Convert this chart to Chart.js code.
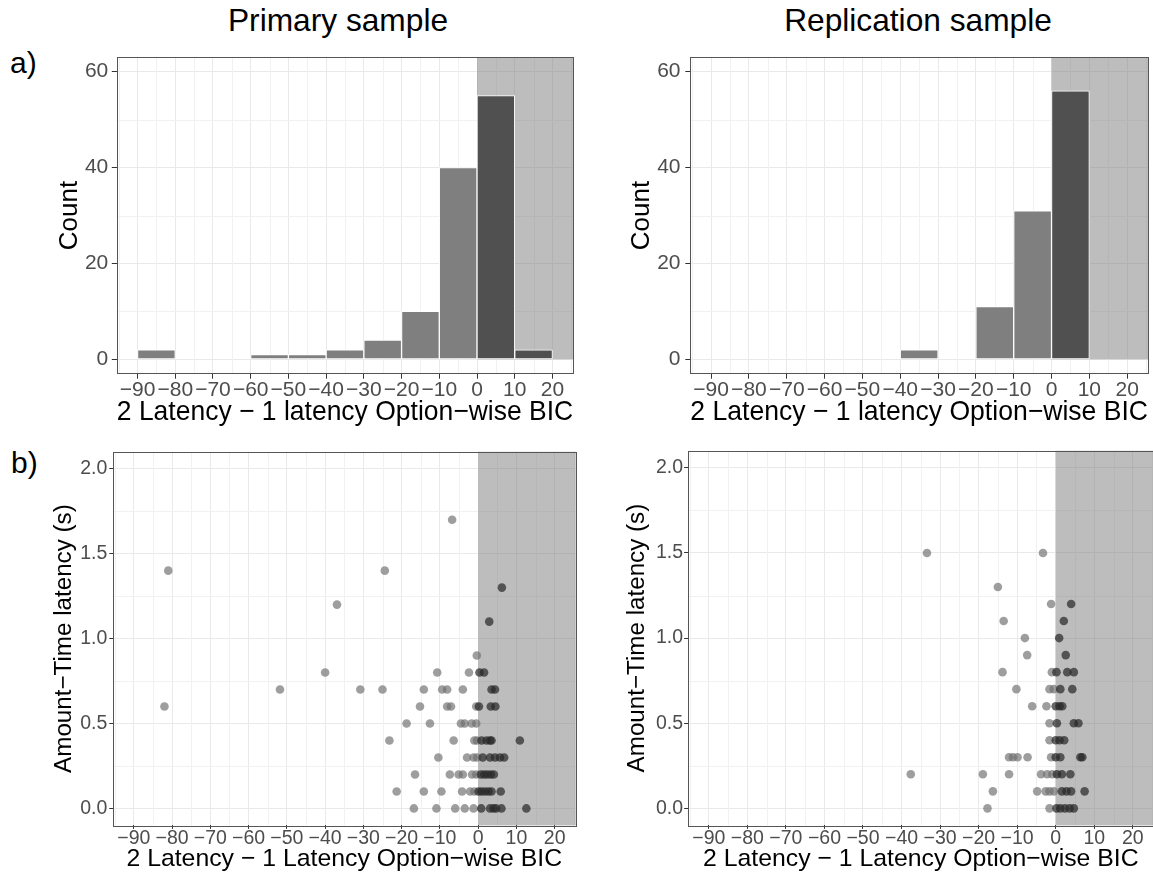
<!DOCTYPE html>
<html>
<head>
<meta charset="utf-8">
<script src="https://cdn.jsdelivr.net/npm/chart.js@4.4.1/dist/chart.umd.min.js"></script>
<style>
  html, body { margin: 0; padding: 0; background: #fff; overflow: hidden; }
  body { width: 1153px; height: 875px; position: relative; font-family: "Liberation Sans", Arial, sans-serif; }
  canvas { position: absolute; }
  .lbl { position: absolute; line-height: 1; white-space: nowrap; color: #000; }
  .ttl { transform: translateX(-50%); }
</style>
</head>
<body>
<div class="lbl ttl" style="left:338px; top:5px; font-size:31.7px">Primary sample</div>
<div class="lbl ttl" style="left:918px; top:5px; font-size:31.7px">Replication sample</div>
<div class="lbl" style="left:10px; top:48px; font-size:30px">a)</div>
<div class="lbl" style="left:11px; top:448px; font-size:30px">b)</div>

<canvas id="histPrimary" width="578" height="400" style="left:0px; top:40px; width:578px; height:400px"></canvas>
<canvas id="histReplication" width="573" height="400" style="left:580px; top:40px; width:573px; height:400px"></canvas>
<canvas id="scatterPrimary" width="580" height="435" style="left:0px; top:440px; width:580px; height:435px"></canvas>
<canvas id="scatterReplication" width="580" height="435" style="left:580px; top:440px; width:580px; height:435px"></canvas>

<script>
// ---- dados ----

// histogramas: início de cada classe (largura 10) e contagem
const binWidth = 10;
const primaryBinStart = [-90, -60, -50, -40, -30, -20, -10, 0, 10];
const primaryCounts   = [2, 1, 1, 2, 4, 10, 40, 55, 2];
const replicationBinStart = [-40, -20, -10, 0];
const replicationCounts   = [2, 11, 31, 56];

// dispersão: diferença de BIC (x) e latência Amount-Time em s (y)
const primaryBIC = [
  -81, -82, -6.8, -24.4, 6.2, -36.9, 2.9, -0.35,
  -40, -10.7, -2.4, 0.35, 1.55,
  -51.8, -30.8, -25, -14.2, -9.4, -8.1, -4.0, 3.5, 4.4,
  -15.2, -8.1, -7.1, -0.5, 0.2, 3.3, 4.5,
  -18.7, -12.6, -4.5, -3.5, -1.7, -0.5,
  -23.2, -6.4, -1.0, -0.3, 0.9, 2.2, 3.1, 3.5, 10.9,
  -10.4, -2.9, -1.2, -0.3, 1.2, 3.1, 4.4, 5.7, 6.8,
  -16.5, -7.4, -5.1, -4.0, -1.6, -0.5, 0.7, 1.6, 2.4, 3.3, 4.1,
  -21.3, -14.2, -9.6, -4.2, -2.1, -1.0, 0.1, 0.9, 1.8, 2.7, 3.5, 5.9,
  -16.8, -10.9, -6.0, -3.5, -1.2, 0.8, 3.1, 4.0, 4.7, 6.1, 12.6
];
const primaryLatency = [
  1.4, 0.6, 1.7, 1.4, 1.3, 1.2, 1.1, 0.9,
  0.8, 0.8, 0.8, 0.8, 0.8,
  0.7, 0.7, 0.7, 0.7, 0.7, 0.7, 0.7, 0.7, 0.7,
  0.6, 0.6, 0.6, 0.6, 0.6, 0.6, 0.6,
  0.5, 0.5, 0.5, 0.5, 0.5, 0.5,
  0.4, 0.4, 0.4, 0.4, 0.4, 0.4, 0.4, 0.4, 0.4,
  0.3, 0.3, 0.3, 0.3, 0.3, 0.3, 0.3, 0.3, 0.3,
  0.2, 0.2, 0.2, 0.2, 0.2, 0.2, 0.2, 0.2, 0.2, 0.2, 0.2,
  0.1, 0.1, 0.1, 0.1, 0.1, 0.1, 0.1, 0.1, 0.1, 0.1, 0.1, 0.1,
  0, 0, 0, 0, 0, 0, 0, 0, 0, 0, 0
];
const replicationBIC = [
  -33.4, -3.3,
  -15.0,
  -1.2, 4.0,
  -13.5, 2.1,
  -8.0, 0.9,
  -7.4, 2.6,
  -13.8, -1.0, 0.2, 3.0, 4.7,
  -10.2, -1.6, -0.5, 1.2, 4.3,
  -6.1, -2.4, 0, 1.0, 1.7,
  -1.6, 0.3, 4.7, 5.9,
  -1.6, 0, 1.0, 2.2,
  -12.1, -11.1, -9.9, -7.3, -1.2, 0, 1.2, 6.4, 6.9,
  -37.6, -18.9, -12.1, -3.8, -2.2, -0.9, 0.3, 1.6, 3.8,
  -16.3, -4.8, -2.6, -1.6, -0.5, 1.6, 2.8, 4.0, 7.5,
  -17.7, -1.6, 0.2, 1.2, 2.4, 3.6, 4.7
];
const replicationLatency = [
  1.5, 1.5,
  1.3,
  1.2, 1.2,
  1.1, 1.1,
  1.0, 1.0,
  0.9, 0.9,
  0.8, 0.8, 0.8, 0.8, 0.8,
  0.7, 0.7, 0.7, 0.7, 0.7,
  0.6, 0.6, 0.6, 0.6, 0.6,
  0.5, 0.5, 0.5, 0.5,
  0.4, 0.4, 0.4, 0.4,
  0.3, 0.3, 0.3, 0.3, 0.3, 0.3, 0.3, 0.3, 0.3,
  0.2, 0.2, 0.2, 0.2, 0.2, 0.2, 0.2, 0.2, 0.2,
  0.1, 0.1, 0.1, 0.1, 0.1, 0.1, 0.1, 0.1, 0.1,
  0, 0, 0, 0, 0, 0, 0
];

// marcas dos eixos
const xMajor = [-90, -80, -70, -60, -50, -40, -30, -20, -10, 0, 10, 20];
const xMinor = [-95, -85, -75, -65, -55, -45, -35, -25, -15, -5, 5, 15, 25];
const countMajor = [0, 20, 40, 60];
const countMinor = [10, 30, 50];
const latMajor = [0, 0.5, 1, 1.5, 2];
const latMinor = [0.25, 0.75, 1.25, 1.75];

const histXTitle = '2 Latency \u2212 1 latency Option\u2212wise BIC';
const scatXTitle = '2 Latency \u2212 1 Latency Option\u2212wise BIC';

// ---- estilo ----
const FONT = '"Liberation Sans", Arial, sans-serif';
const LIGHT_BAR = '#7f7f7f';
const DARK_BAR = '#505050';
const LIGHT_PT = 'rgba(112,112,112,0.68)';
const DARK_PT = 'rgba(38,38,38,0.7)';

const minus = v => (v < 0 ? '\u2212' + Math.abs(v) : String(v));

// grade secundária, faixa cinza e moldura do painel
const decor = {
  id: 'decor',
  beforeDatasetsDraw(chart, args, opts) {
    const { ctx, chartArea: a, scales: { x, y } } = chart;
    ctx.save();
    ctx.strokeStyle = '#f1f1f1';
    ctx.lineWidth = 1;
    opts.xMinor.forEach(v => {
      const p = Math.round(x.getPixelForValue(v)) + 0.5;
      if (p <= a.left || p >= a.right) return;
      ctx.beginPath(); ctx.moveTo(p, a.top); ctx.lineTo(p, a.bottom); ctx.stroke();
    });
    opts.yMinor.forEach(v => {
      const p = Math.round(y.getPixelForValue(v)) + 0.5;
      if (p <= a.top || p >= a.bottom) return;
      ctx.beginPath(); ctx.moveTo(a.left, p); ctx.lineTo(a.right, p); ctx.stroke();
    });
    const x0 = x.getPixelForValue(opts.shadeFrom);
    const yb = opts.shadeY === null ? a.bottom : y.getPixelForValue(opts.shadeY);
    ctx.fillStyle = 'rgba(128,128,128,0.52)';
    ctx.fillRect(x0, a.top, a.right - x0, yb - a.top);
    ctx.restore();
  },
  afterDatasetsDraw(chart) {
    const { ctx, chartArea: a } = chart;
    ctx.save();
    ctx.strokeStyle = '#555';
    ctx.lineWidth = 1;
    ctx.strokeRect(Math.round(a.left) + 0.5, Math.round(a.top) + 0.5,
      Math.round(a.right - a.left), Math.round(a.bottom - a.top));
    ctx.restore();
  }
};

function makePanel(id, p) {
  return new Chart(document.getElementById(id), {
    type: p.type,
    data: { datasets: [p.dataset] },
    plugins: [decor],
    options: {
      responsive: false,
      animation: false,
      layout: { padding: { left: 0, top: p.padTop, right: p.padRight, bottom: 0 } },
      plugins: {
        legend: { display: false },
        tooltip: { enabled: false },
        decor: { xMinor: xMinor, yMinor: p.yMinor, shadeFrom: 0, shadeY: p.shadeY }
      },
      scales: {
        x: {
          type: 'linear', min: -95.5, max: 25.5, offset: false,
          afterBuildTicks: s => { s.ticks = xMajor.map(v => ({ value: v })); },
          afterFit: s => { s.height = p.xHeight; },
          grid: { color: '#e9e9e9', lineWidth: 1, offset: false, tickLength: p.tickLen, tickColor: '#333' },
          border: { display: false },
          ticks: {
            color: '#4d4d4d', padding: p.xTickPad, maxRotation: 0, autoSkip: false,
            font: { family: FONT, size: p.tickSize, lineHeight: 1 },
            callback: v => minus(v)
          },
          title: {
            display: true, text: p.xTitle, color: '#000',
            font: { family: FONT, size: p.xTitleSize },
            padding: { top: 0, bottom: p.xTitlePad }
          }
        },
        y: {
          type: 'linear', min: p.yMin, max: p.yMax,
          afterBuildTicks: s => { s.ticks = p.yMajor.map(v => ({ value: v })); },
          afterFit: s => { s.width = p.yWidth; },
          grid: { color: '#e9e9e9', lineWidth: 1, tickLength: p.tickLen, tickColor: '#333' },
          border: { display: false },
          ticks: {
            color: '#4d4d4d', padding: p.yTickPad,
            font: { family: FONT, size: p.tickSize, lineHeight: 1 },
            callback: p.yFmt
          },
          title: {
            display: true, text: p.yTitle, color: '#000',
            font: { family: FONT, size: p.yTitleSize },
            padding: { top: p.yTitlePad, bottom: 0 }
          }
        }
      }
    }
  });
}

function histDataset(starts, counts) {
  return {
    data: starts.map((s, i) => ({ x: s + binWidth / 2, y: counts[i] })),
    backgroundColor: starts.map(s => (s >= 0 ? DARK_BAR : LIGHT_BAR)),
    borderColor: '#ffffff',
    borderWidth: 1,
    borderSkipped: false,
    barPercentage: 1,
    categoryPercentage: 1
  };
}

function scatterDataset(xs, ys) {
  return {
    data: xs.map((v, i) => ({ x: v, y: ys[i] })),
    pointRadius: 4.3,
    pointBorderWidth: 0,
    pointBackgroundColor: xs.map(v => (v < 0 ? LIGHT_PT : DARK_PT))
  };
}

const histCommon = {
  type: 'bar', yMin: -3, yMax: 63, yMajor: countMajor, yMinor: countMinor, shadeY: 0,
  yFmt: v => String(v), xTitle: histXTitle, yTitle: 'Count',
  tickSize: 21, xTitleSize: 27.5, yTitleSize: 26, tickLen: 5,
  padTop: 17.3, xHeight: 66.3, xTickPad: 1, xTitlePad: 11.5
};
const scatCommon = {
  type: 'scatter', yMin: -0.1, yMax: 2.1, yMajor: latMajor, yMinor: latMinor, shadeY: null,
  yFmt: v => v.toFixed(1), xTitle: scatXTitle, yTitle: 'Amount\u2212Time latency (s)',
  tickSize: 19.5, xTitleSize: 24.8, yTitleSize: 24.2, tickLen: 3.5,
  padTop: 9.6, xHeight: 49.6, xTickPad: 0, xTitlePad: 0.6
};

makePanel('histPrimary', Object.assign({}, histCommon, {
  dataset: histDataset(primaryBinStart, primaryCounts),
  yWidth: 116.8, padRight: 4.8, yTickPad: 3.5, yTitlePad: 53.8
}));
makePanel('histReplication', Object.assign({}, histCommon, {
  dataset: histDataset(replicationBinStart, replicationCounts),
  yWidth: 110.3, padRight: 5, yTickPad: 4.8, yTitlePad: 46.4
}));
makePanel('scatterPrimary', Object.assign({}, scatCommon, {
  dataset: scatterDataset(primaryBIC, primaryLatency),
  yWidth: 112.8, padRight: 0.5, yTickPad: 2, yTitlePad: 50
}));
makePanel('scatterReplication', Object.assign({}, scatCommon, {
  dataset: scatterDataset(replicationBIC, replicationLatency),
  yWidth: 107.6, padRight: 6, yTickPad: 1, yTitlePad: 43
}));
</script>
</body>
</html>
